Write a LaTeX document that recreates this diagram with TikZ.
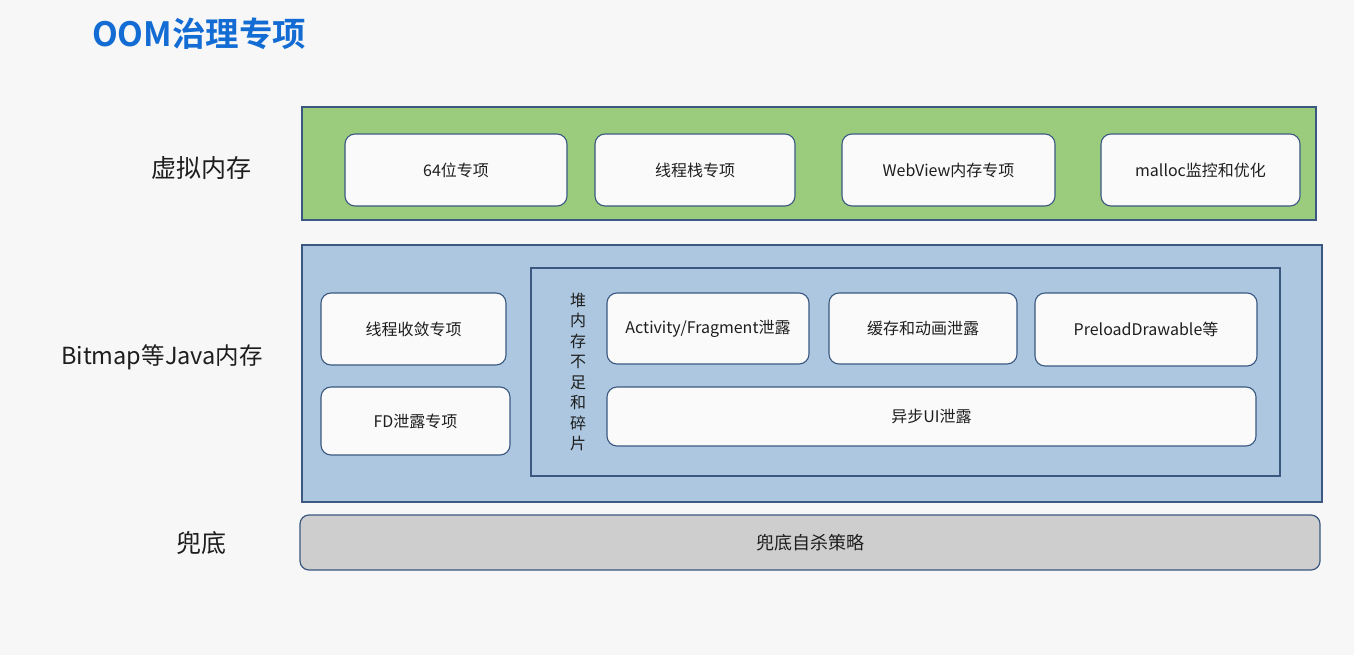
\documentclass[tikz,border=0pt]{standalone}
\usepackage{fontspec}
\setmainfont{Noto Sans CJK SC}
\newfontfamily\titlefont{Noto Sans CJK SC Bold}
\definecolor{bgc}{RGB}{247,247,247}
\definecolor{titleblue}{RGB}{18,108,212}
\definecolor{greenband}{RGB}{155,204,126}
\definecolor{blueband}{RGB}{172,199,223}
\definecolor{edgeblue}{RGB}{58,88,128}
\definecolor{boxfill}{RGB}{250,250,250}
\definecolor{grayband}{RGB}{206,206,206}
\definecolor{textc}{RGB}{30,30,30}
\tikzset{
  band/.style={draw=edgeblue, line width=1.2pt},
  item/.style={draw=edgeblue, line width=1.1pt, fill=boxfill, rounded corners=10pt},
  itemtext/.style={font=\fontsize{16}{18}\selectfont, text=textc},
  layerlabel/.style={font=\fontsize{25}{28}\selectfont, text=textc, anchor=center},
}
\begin{document}
\begin{tikzpicture}[x=1pt,y=-1pt]
  \fill[bgc] (0,0) rectangle (1354,655);
  \useasboundingbox (0,0) rectangle (1354,655);

  % title
  \node[anchor=west, inner sep=0pt, text=titleblue, font=\titlefont\fontsize{33.5}{36}\selectfont] (title) at (92,34) {OOM治理专项};

  % layer labels
  \node[layerlabel] (lvirt) at (201,168) {虚拟内存};
  \node[layerlabel, font=\fontsize{23.5}{26}\selectfont] (ljava) at (162,357) {Bitmap等Java内存};
  \node[layerlabel] (lbase) at (201,543) {兜底};

  % virtual memory layer
  \draw[band, fill=greenband] (302,107) rectangle (1316,220);
  \draw[item] (345,134) rectangle node[itemtext] (v1) {64位专项} (567,206);
  \draw[item] (595,134) rectangle node[itemtext] (v2) {线程栈专项} (795,206);
  \draw[item] (842,134) rectangle node[itemtext] (v3) {WebView内存专项} (1055,206);
  \draw[item] (1101,134) rectangle node[itemtext] (v4) {malloc监控和优化} (1300,206);

  % java memory layer
  \draw[band, fill=blueband] (302,245) rectangle (1322,502);
  \draw[item] (321,293) rectangle node[itemtext] (j1) {线程收敛专项} (506,365);
  \draw[item] (321,387) rectangle node[itemtext] (j2) {FD泄露专项} (510,455);

  % heap shortage group
  \draw[band] (531,268) rectangle (1280,476);
  \node[itemtext, align=center, font=\fontsize{16}{20.5}\selectfont] (heap) at (578,372)
    {堆\\内\\存\\不\\足\\和\\碎\\片};
  \draw[item] (607,293) rectangle node[itemtext] (h1) {Activity/Fragment泄露} (809,364);
  \draw[item] (829,293) rectangle node[itemtext] (h2) {缓存和动画泄露} (1017,364);
  \draw[item] (1035,293) rectangle node[itemtext] (h3) {PreloadDrawable等} (1257,366);
  \draw[item] (607,387) rectangle node[itemtext] (h4) {异步UI泄露} (1256,446);

  % fallback layer
  \draw[band, fill=grayband, rounded corners=9pt] (300,515) rectangle node[itemtext, font=\fontsize{18}{20}\selectfont] (b1) {兜底自杀策略} (1320,570);
\end{tikzpicture}
\end{document}
